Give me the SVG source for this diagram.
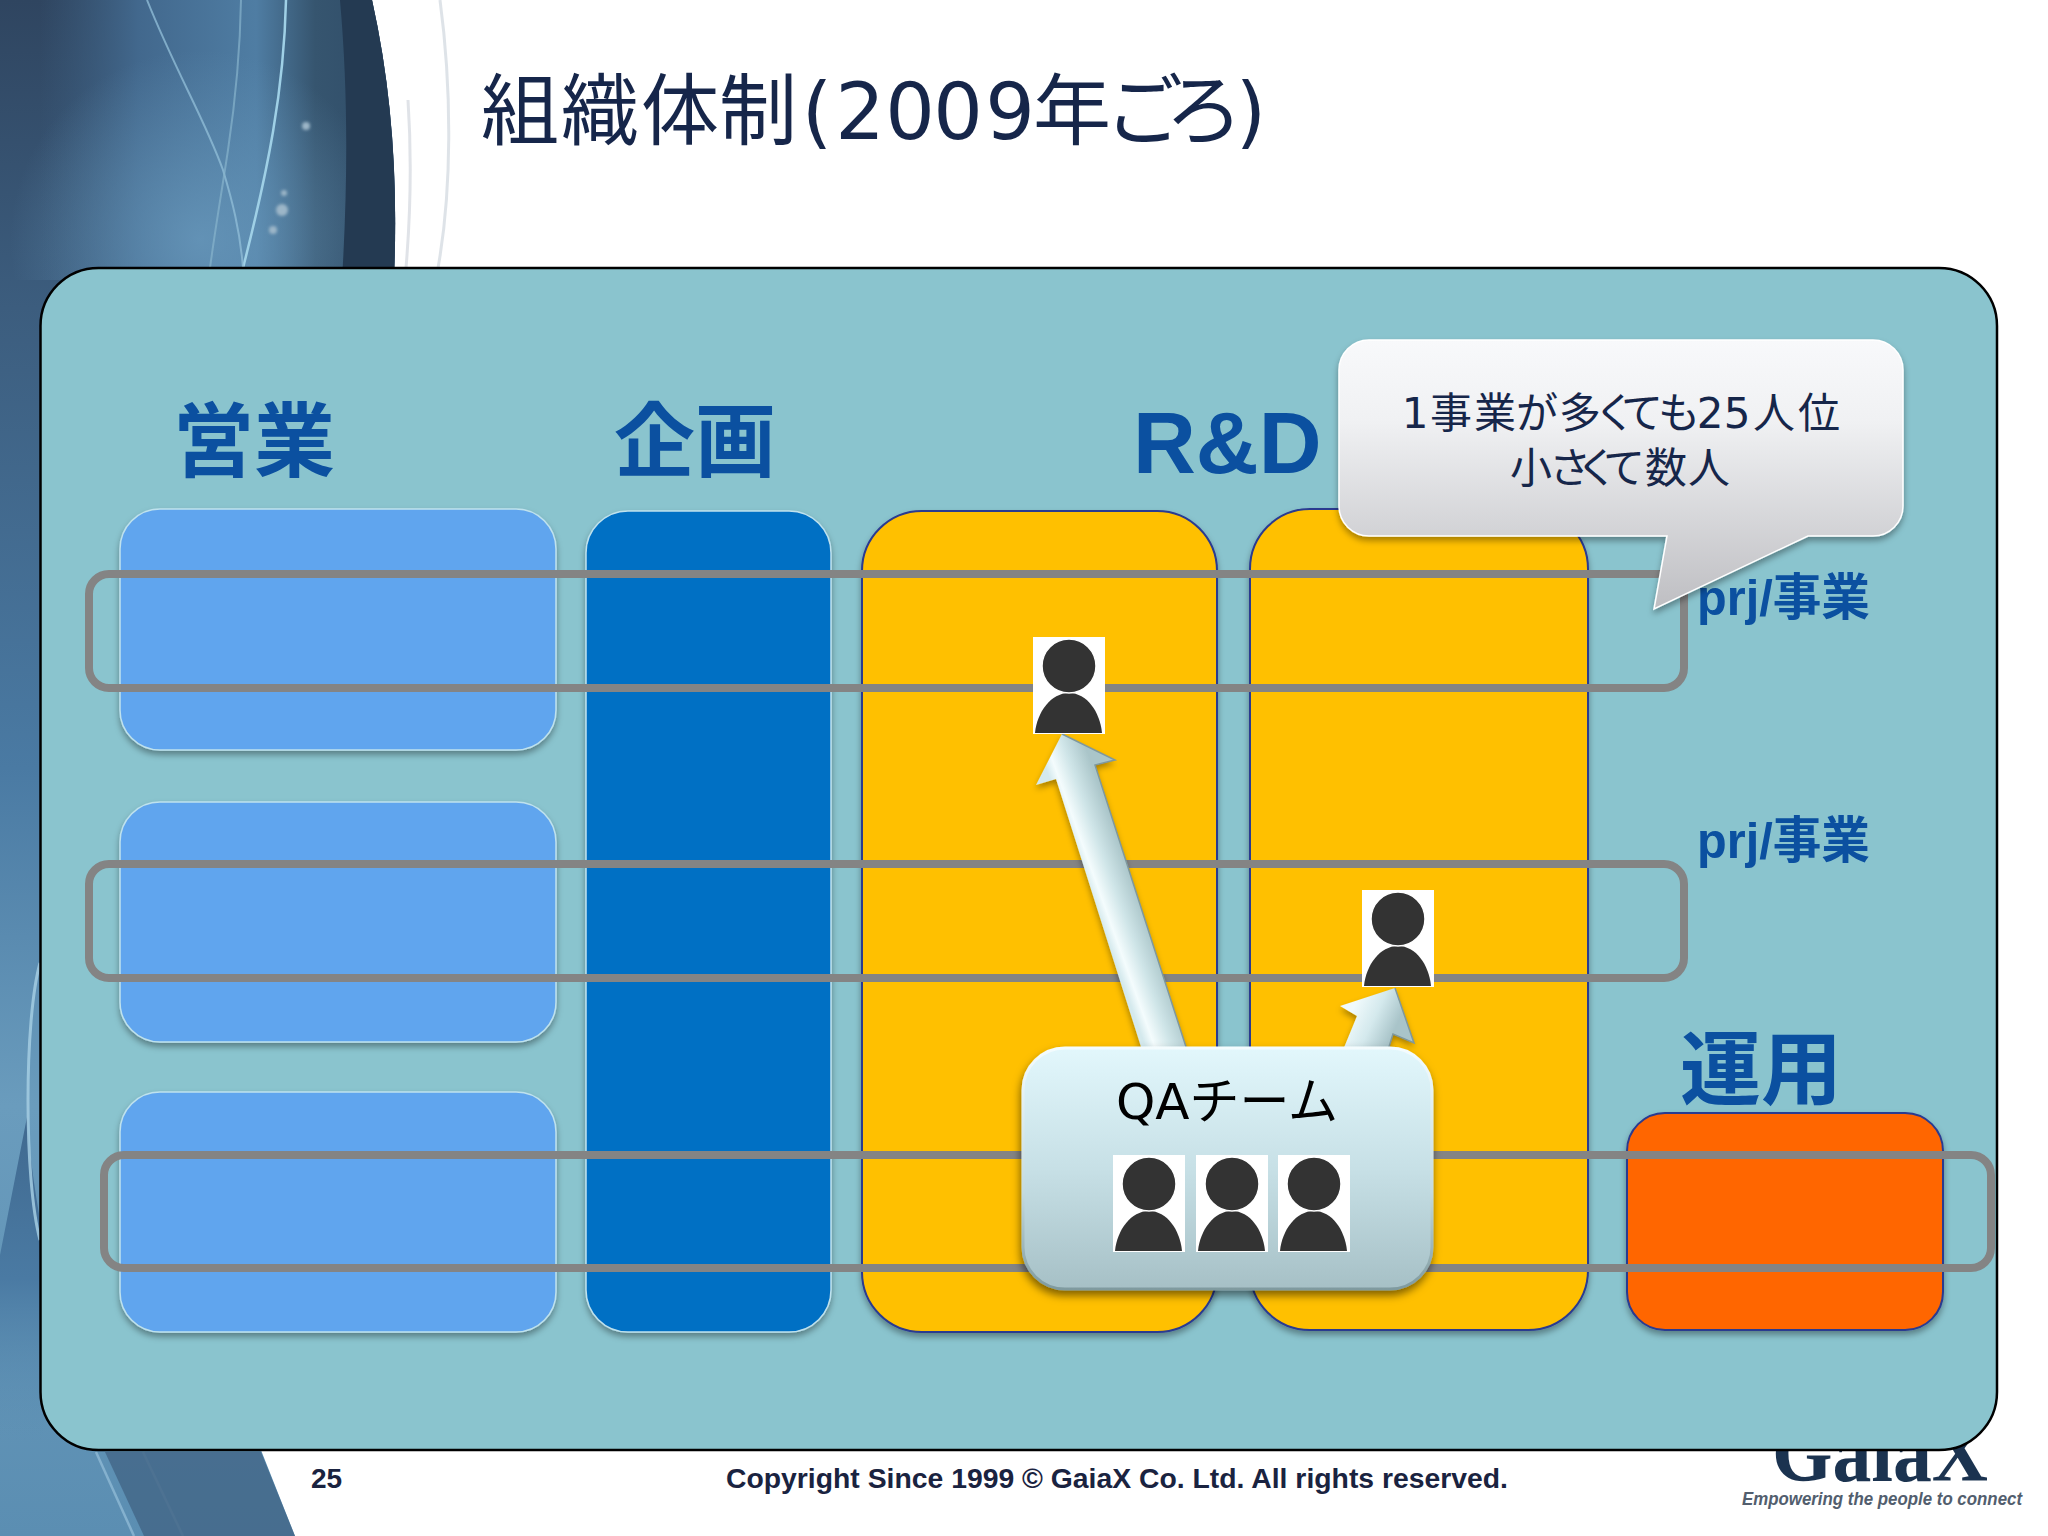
<svg xmlns="http://www.w3.org/2000/svg" width="2048" height="1536" viewBox="0 0 2048 1536">
<style>
.jp{font-family:"DejaVu Sans","Noto Sans CJK JP",sans-serif}
.hd{font-family:"Noto Sans CJK JP",sans-serif;font-weight:700;font-size:81px;fill:#0b50a0}
.prj{font-family:"Liberation Sans","Noto Sans CJK JP",sans-serif;font-weight:700;font-size:50px;fill:#0b50a0}
.ft{font-family:"Liberation Sans",sans-serif;font-weight:700;font-size:28px;fill:#1a2340}
.row{fill:none;stroke:#848484;stroke-width:8}
.bl{fill:#60a5ee;stroke:#bfe2ee;stroke-width:1.5;filter:url(#sh)}
.yl{fill:#ffc000;stroke:#2a3a90;stroke-width:2;filter:url(#sh)}
</style>
<defs>
<linearGradient id="bgG" gradientUnits="userSpaceOnUse" x1="0" y1="0" x2="394" y2="0"><stop offset="0.1" stop-color="#3d5f80" stop-opacity="0"/><stop offset="0.35" stop-color="#42688d"/><stop offset="0.65" stop-color="#4f7da3"/><stop offset="0.8" stop-color="#36556f"/><stop offset="1" stop-color="#2f4c68"/></linearGradient>
<radialGradient id="hl" gradientUnits="userSpaceOnUse" cx="200" cy="240" r="190"><stop offset="0" stop-color="#6b9cbf" stop-opacity=".75"/><stop offset="1" stop-color="#6b9cbf" stop-opacity="0"/></radialGradient>
<linearGradient id="bgL" x1="0" y1="0" x2="0" y2="1536" gradientUnits="userSpaceOnUse"><stop offset="0" stop-color="#2f4560"/><stop offset=".2" stop-color="#3c5d7e"/><stop offset=".5" stop-color="#4a7aa3"/><stop offset=".72" stop-color="#6a9cbd"/><stop offset="1" stop-color="#5b8eb2"/></linearGradient>
<linearGradient id="tri" x1="0" y1="1117" x2="0" y2="1440" gradientUnits="userSpaceOnUse"><stop offset="0" stop-color="#40698f"/><stop offset=".5" stop-color="#4a7aa3"/><stop offset="1" stop-color="#5b8eb2" stop-opacity="0"/></linearGradient>
<linearGradient id="co" x1="0" y1="0" x2="0" y2="1"><stop offset="0" stop-color="#f8f9fb"/><stop offset="0.3" stop-color="#f0f1f3"/><stop offset="1" stop-color="#bebec2"/></linearGradient>
<linearGradient id="qa" x1="0" y1="0" x2="0" y2="1"><stop offset="0" stop-color="#e2f7fc"/><stop offset="0.5" stop-color="#c7e0e6"/><stop offset="1" stop-color="#a6c0c6"/></linearGradient>
<linearGradient id="qaE" x1="0" y1="0" x2="0" y2="1"><stop offset="0" stop-color="#f4fcfe"/><stop offset="0.6" stop-color="#c4dade"/><stop offset="1" stop-color="#7f9a9f"/></linearGradient>
<linearGradient id="a1" gradientUnits="userSpaceOnUse" x1="1094" y1="903" x2="1136" y2="888"><stop offset="0" stop-color="#d4e9ed"/><stop offset="0.2" stop-color="#f4fcfd"/><stop offset="0.55" stop-color="#cfe5e8"/><stop offset="1" stop-color="#aac5c9"/></linearGradient>
<linearGradient id="a2" gradientUnits="userSpaceOnUse" x1="1350" y1="1015" x2="1392" y2="1035"><stop offset="0" stop-color="#f0fafc"/><stop offset="0.5" stop-color="#d4e9ed"/><stop offset="1" stop-color="#a9c4c9"/></linearGradient>
<filter id="sh" x="-10%" y="-10%" width="120%" height="120%"><feDropShadow dx="0" dy="4" stdDeviation="3" flood-color="#000" flood-opacity=".35"/></filter>
<filter id="sh2" x="-10%" y="-10%" width="120%" height="120%"><feDropShadow dx="-1" dy="5" stdDeviation="4" flood-color="#000" flood-opacity=".5"/></filter>
<filter id="bl"><feGaussianBlur stdDeviation="1.5"/></filter>
<g id="person">
<rect width="72" height="97" fill="#fff"/>
<path d="M2,96 C4,75 18,56 36,56 C54,56 67,75 69,96 Z" fill="#333"/>
<circle cx="36" cy="29" r="27" fill="#333" stroke="#fff" stroke-width="1.5"/>
</g>
</defs>

<rect id="page" width="2048" height="1536" fill="#fff"/>
<g id="decoration">
<path d="M0,0 H372 C392,90 398,180 394,268 V1440 H257 L295,1536 H0 Z" fill="url(#bgL)"/>
<path d="M0,0 H372 C392,90 398,180 394,280 H0 Z" fill="url(#bgG)"/>
<path d="M0,0 H372 C392,90 398,180 394,280 H0 Z" fill="url(#hl)"/>
<path d="M340,0 H372 C392,90 398,180 394,280 H342 C348,180 348,90 340,0 Z" fill="#243a52"/>
<path d="M27,1117 L0,1255 V1440 H44 V1240 C36,1200 30,1160 27,1117 Z" fill="url(#tri)"/>
<g fill="none">
<path d="M286,0 C284,90 268,170 243,268" stroke="#9fd0e6" stroke-width="2.5"/>
<path d="M147,0 C175,70 205,120 223,170 C232,200 240,230 243,268" stroke="#8fbcd6" stroke-width="2" opacity=".8"/>
<path d="M241,0 C240,60 234,110 228,150 C222,190 215,230 210,268" stroke="#88b4cc" stroke-width="2" opacity=".7"/>
<path d="M408,100 C412,160 410,220 406,268" stroke="#d8dce2" stroke-width="3" opacity=".8"/>
<path d="M440,0 C452,90 452,190 438,268" stroke="#d6dce2" stroke-width="3" opacity=".8"/>
<path d="M40,963 C24,1020 24,1180 40,1240" stroke="#a3cde2" stroke-width="3" opacity=".85"/>
<path d="M96,1452 L134,1536" stroke="#8fb9d4" stroke-width="2.5" opacity=".8"/>
<path d="M143,1452 L183,1536" stroke="#7fa6c2" stroke-width="2.5" opacity=".6"/>
</g>
<path d="M105,1452 H261 L295,1536 H144 Z" fill="#3f6080" opacity=".7"/>
<g fill="#9cb6c8" filter="url(#bl)"><circle cx="306" cy="126" r="4"/><circle cx="284" cy="193" r="3"/><circle cx="282" cy="210" r="6"/><circle cx="273" cy="230" r="4"/></g>
</g>

<text id="title" class="jp" y="139" font-size="78" fill="#16264a" text-anchor="middle" x="520 600 680 758 817 860 910 958 1010 1072 1144 1204 1251">組織体制(2009年ごろ)</text>

<g id="logo">
<text x="1772" y="1481" font-family="Liberation Serif,serif" font-weight="700" font-size="84" fill="#1b3350" textLength="216" lengthAdjust="spacingAndGlyphs">GaiaX</text>
<text x="1742" y="1505" font-family="Liberation Sans,sans-serif" font-weight="700" font-style="italic" font-size="18" fill="#525e6e" textLength="280" lengthAdjust="spacingAndGlyphs">Empowering the people to connect</text>
</g>

<rect id="panel" x="40.5" y="268" width="1956.5" height="1182" rx="58" ry="58" fill="#8ac4ce" stroke="#000" stroke-width="2.5"/>

<g id="sales1"><rect class="bl" x="120" y="509" width="436" height="241" rx="40"/></g>
<g id="sales2"><rect class="bl" x="120" y="802" width="436" height="240" rx="40"/></g>
<g id="sales3"><rect class="bl" x="120" y="1092" width="436" height="240" rx="40"/></g>
<g id="planning"><rect x="586" y="511" width="245" height="821" rx="42" fill="#006fc4" stroke="#bfe2ee" stroke-width="1.5" filter="url(#sh)"/></g>
<g id="rd1"><rect class="yl" x="862" y="511" width="355" height="821" rx="60"/></g>
<g id="rd2"><rect class="yl" x="1250" y="509" width="338" height="821" rx="60"/></g>
<g id="ops"><rect x="1627" y="1113" width="316" height="217" rx="38" fill="#ff6600" stroke="#2a3a90" stroke-width="2" filter="url(#sh)"/></g>

<text id="h-sales" class="hd" x="173" y="470">営業</text>
<text id="h-plan" class="hd" x="614" y="470">企画</text>
<text id="h-rd" x="1133" y="473" font-family="Liberation Sans,sans-serif" font-weight="700" font-size="87" fill="#0b50a0">R&amp;D</text>
<text id="h-ops" class="hd" x="1680" y="1098">運用</text>

<g id="project-rows">
<rect class="row" x="89" y="574" width="1595" height="114" rx="20"/>
<rect class="row" x="89" y="864" width="1595" height="114" rx="20"/>
<rect class="row" x="104" y="1155" width="1887" height="113" rx="20"/>
</g>
<text id="prj1" class="prj" x="1697" y="615" textLength="173" lengthAdjust="spacingAndGlyphs">prj/事業</text>
<text id="prj2" class="prj" x="1697" y="858" textLength="173" lengthAdjust="spacingAndGlyphs">prj/事業</text>

<g id="connectors">
<g filter="url(#sh)">
<path d="M1062,734 L1115,760 L1095,765 L1187,1050 H1142 L1056,779 L1036,785 Z" fill="url(#a1)"/>
<path d="M1395,988 L1414,1043 L1393,1034 L1388,1050 H1343 L1357,1016 L1340,1006 Z" fill="url(#a2)"/>
</g>
<path d="M1062,734 L1115,760 L1095,765 L1187,1050" fill="none" stroke="#7f989d" stroke-width="1.5"/>
<path d="M1395,988 L1414,1043 L1393,1034 L1388,1050" fill="none" stroke="#7f989d" stroke-width="1.5"/>
</g>

<use id="person-a" href="#person" x="1033" y="637"/>
<use id="person-b" href="#person" x="1362" y="890"/>

<g id="qa-team">
<rect x="1023" y="1048" width="409" height="241" rx="42" fill="url(#qa)" stroke="url(#qaE)" stroke-width="3" filter="url(#sh2)"/>
<text class="jp" x="1227" y="1119" text-anchor="middle" font-size="50" fill="#000">QAチーム</text>
<use href="#person" x="1113" y="1155"/>
<use href="#person" x="1196" y="1155"/>
<use href="#person" x="1278" y="1155"/>
</g>

<g id="callout">
<path d="M1369,340 H1873 A30,30 0 0 1 1903,370 V506 A30,30 0 0 1 1873,536 H1808 L1654,609 L1667,536 H1369 A30,30 0 0 1 1339,506 V370 A30,30 0 0 1 1369,340 Z" fill="url(#co)" stroke="#fff" stroke-width="1.5" filter="url(#sh)"/>
<text class="jp" y="428" text-anchor="middle" font-size="42" fill="#16264a" x="1415 1451 1495 1537 1580 1615 1642 1679 1710 1737 1774 1819">1事業が多くても25人位</text>
<text class="jp" y="483" text-anchor="middle" font-size="42" fill="#16264a" x="1531 1570 1597 1624 1666 1709">小さくて数人</text>
</g>

<text id="page-no" class="ft" x="311" y="1488">25</text>
<text id="copyright" class="ft" x="726" y="1488" textLength="782" lengthAdjust="spacingAndGlyphs">Copyright Since 1999 © GaiaX Co. Ltd. All rights reserved.</text>
</svg>
